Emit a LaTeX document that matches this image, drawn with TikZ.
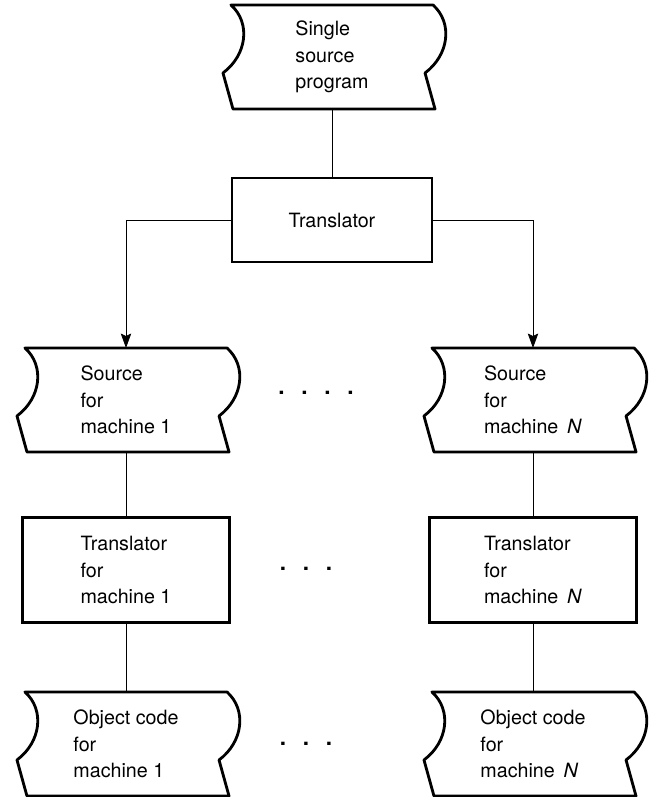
\documentclass[tikz,border=0pt]{standalone}
\usepackage{fontspec}
\setmainfont{TeX Gyre Heros}
\usetikzlibrary{arrows.meta,calc}

% outline of a paper-tape node: curved top of each side, straight slant below
\newcommand{\tapeoutline}[1]{%
	\draw[tapeline] (#1.north west) .. controls +(20,18) and +(24,-18) .. ($(#1.north west)+(-8,68)$)
		-- ($(#1.south west)+(2,0)$) -- ($(#1.south east)+(2,0)$) -- ($(#1.north east)+(-8,68)$)
		.. controls +(24,-18) and +(20,18) .. (#1.north east) -- cycle;}

\begin{document}
\begin{tikzpicture}[x=0.025cm,y=-0.025cm,
		font=\fontsize{14}{19}\selectfont,
		tapebox/.style={rectangle,outer sep=0pt,minimum width=5.05cm,minimum height=2.6cm,align=left},
		procbox/.style={rectangle,draw,line width=2pt,outer sep=0pt,align=left},
		tapeline/.style={line width=2pt,line join=round},
		link/.style={line width=0.6pt},
		dotrow/.style={font=\fontsize{16}{19}\selectfont\bfseries}]
		\useasboundingbox (0,0) rectangle (653,797);

		\node (single)[tapebox] at (332,57) {Single\\source\\program};
		\tapeoutline{single}
		\node (trans)[procbox,minimum width=5cm,minimum height=2.1cm] at (332,220) {Translator};
		\draw[link] (single) -- (trans);

		\foreach \cx/\nm/\id in {126/1/1, 533/N/{\,\textit{N}}}{
			\node (src\nm)[tapebox] at (\cx,400) {Source\\for\\machine \id};
			\tapeoutline{src\nm}
			\node (tr\nm)[procbox,minimum width=5.175cm,minimum height=2.625cm] at (\cx,570) {Translator\\for\\machine \id};
			\node (obj\nm)[tapebox] at (\cx,744) {Object code\\for\\machine \id};
			\tapeoutline{obj\nm}
			\draw[link] (src\nm) -- (tr\nm);
			\draw[link] (tr\nm) -- (obj\nm);
		}
		\draw[link,-{Stealth[length=3.6mm,width=2.6mm,inset=0.6mm]}] (trans.west) -| (src1.north);
		\draw[link,-{Stealth[length=3.6mm,width=2.6mm,inset=0.6mm]}] (trans.east) -| (srcN.north);

%		rows of dots between the two columns
		\node (dotsA)[dotrow] at (316,393) {.\hspace{0.42cm}.\hspace{0.42cm}.\hspace{0.42cm}.};
		\node (dotsB)[dotrow] at (306,569) {.\hspace{0.42cm}.\hspace{0.42cm}.};
		\node (dotsC)[dotrow] at (306,744) {.\hspace{0.42cm}.\hspace{0.42cm}.};
	\end{tikzpicture}
\end{document}
